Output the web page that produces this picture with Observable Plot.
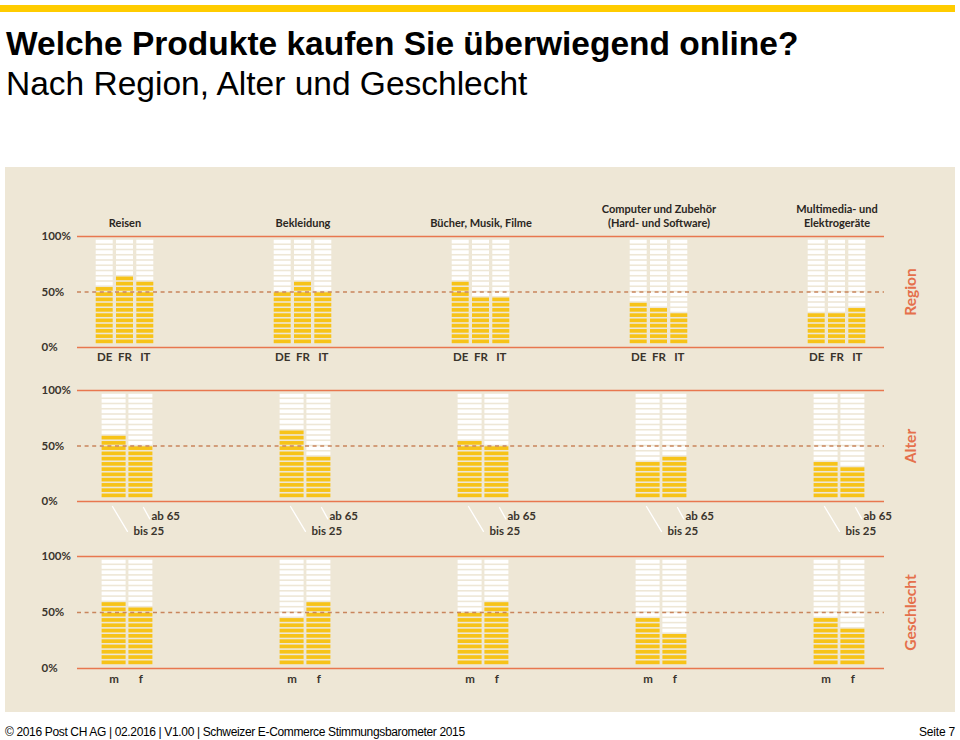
<!DOCTYPE html>
<html><head><meta charset="utf-8">
<script src="https://cdn.jsdelivr.net/npm/d3@7"></script>
<script src="https://cdn.jsdelivr.net/npm/@observablehq/plot@0.6"></script>
<style>
html,body{margin:0;padding:0;background:#fff;}
body{width:960px;height:740px;position:relative;overflow:hidden;font-family:"Liberation Sans",Arial,sans-serif;}
#topbar{position:absolute;left:0;top:5px;width:955px;height:7px;background:#FFCC00;}
#title{position:absolute;left:6px;top:24px;font-size:33.5px;font-weight:bold;color:#000;white-space:nowrap;line-height:40px;}
#subtitle{position:absolute;left:6px;top:64px;font-size:33.5px;color:#000;white-space:nowrap;line-height:40px;}
#panel{position:absolute;left:5px;top:167px;width:950px;height:545px;background:#EEE7D6;}
#panel svg{position:absolute;left:0;background:transparent;overflow:visible;}
#footer{position:absolute;left:5px;top:725px;font-size:12px;letter-spacing:-0.35px;color:#000;white-space:nowrap;}
#page{position:absolute;right:5px;top:725px;font-size:12px;letter-spacing:-0.2px;color:#000;}
</style></head>
<body>
<div id="topbar"></div>
<div id="title">Welche Produkte kaufen Sie überwiegend online?</div>
<div id="subtitle">Nach Region, Alter und Geschlecht</div>
<div id="panel"></div>
<div id="footer">© 2016 Post CH AG | 02.2016 | V1.00 | Schweizer E-Commerce Stimmungsbarometer 2015</div>
<div id="page">Seite 7</div>
<script>
// ---- data ----
const products = ["Reisen", "Bekleidung", "Bücher, Musik, Filme", "Computer und Zubehör\n(Hard- und Software)", "Multimedia- und\nElektrogeräte"];
const regions = ["DE", "FR", "IT"];
const regionDE = [55, 50, 60, 40, 30];
const regionFR = [65, 60, 45, 35, 30];
const regionIT = [60, 50, 45, 30, 35];
const ages = ["bis 25", "ab 65"];
const ageBis25 = [60, 65, 55, 35, 35];
const ageAb65 = [50, 40, 50, 40, 30];
const genders = ["m", "f"];
const genderM = [60, 45, 50, 45, 45];
const genderF = [55, 60, 60, 30, 35];
const yTicks = [0, 50, 100];
const segmentStep = 5;
const rowLabels = ["Region", "Alter", "Geschlecht"];

// ---- styles ----
const YELLOW = "#F7C318", EMPTY = "#FFFFFF", LINE = "#E8774F", DASH = "#C9855C";
const TXT = "#3a342c", ACCENT = "#E5704C";
const FONT = "Lato, 'Open Sans', sans-serif";
const W = 950, FRAME_L = 72, FRAME_R = 879;

function segments(cats, series) {
  const out = [];
  products.forEach((p, i) => cats.forEach((c, j) => {
    const v = series[j][i];
    for (let k = 0; k < 100 / segmentStep; k++) {
      out.push({product: p, cat: c, j, y1: k * segmentStep, y2: (k + 1) * segmentStep, on: (k + 1) * segmentStep <= v});
    }
  }));
  return out;
}

const lineShape = {draw(context, l) { context.moveTo(0, 0); context.lineTo(0, -l); }};

function row(o) {
  const n = products.length;
  const pi = 1 - o.bw / o.step;
  const r0 = o.center - o.bw / 2;
  const r1 = r0 + o.step * (n - pi);
  const segs = segments(o.cats, o.series);
  const marks = [];
  o.cats.forEach((c, j) => {
    const dx = (j - (o.cats.length - 1) / 2) * o.inner;
    marks.push(Plot.barY(segs.filter(d => d.j === j && !d.on), {x: "product", y1: "y1", y2: "y2", fill: EMPTY, insetTop: 0.8, insetBottom: 0.8, dx}));
    marks.push(Plot.barY(segs.filter(d => d.j === j && d.on), {x: "product", y1: "y1", y2: "y2", fill: YELLOW, insetTop: 0.8, insetBottom: 0.8, dx}));
    if (o.catLabels) {
      marks.push(Plot.text(products, {x: d => d, y: () => 0, text: () => c, dx, dy: o.labelDy, fill: TXT, fontSize: 11.5, fontWeight: "bold", fontFamily: FONT}));
    }
  });
  marks.push(Plot.ruleY([0], {dy: 3, stroke: LINE, strokeWidth: 1.6}));
  marks.push(Plot.ruleY([100], {dy: -3, stroke: LINE, strokeWidth: 1.6}));
  marks.push(Plot.ruleY([50], {stroke: DASH, strokeWidth: 1.3, strokeDasharray: "4,3.6"}));
  yTicks.forEach(t => {
    marks.push(Plot.text([t], {y: d => d, text: d => d + "%", frameAnchor: "left", dx: -36, dy: t === 100 ? -3 : t === 0 ? 3 : 0, textAnchor: "start", fill: TXT, fontSize: 11.5, fontWeight: "bold", fontFamily: FONT}));
  });
  marks.push(Plot.text([o.label], {y: () => 50, frameAnchor: "right", dx: 27, rotate: -90, textAnchor: "middle", text: d => d, fill: ACCENT, fontSize: 15.5, fontWeight: "bold", fontFamily: FONT}));
  if (o.titles) {
    marks.push(Plot.text(products, {x: d => d, y: () => 100, dy: -13, text: d => d, lineAnchor: "bottom", lineHeight: 1.25, fill: "#2a2622", fontSize: 11, fontWeight: "bold", fontFamily: FONT}));
  }
  if (o.ageLabels) {
    marks.push(Plot.vector(products, {x: d => d, y: () => 0, dx: -15, dy: 8, length: 29, rotate: 149, anchor: "start", stroke: "#fff", strokeWidth: 1.3, shape: lineShape}));
    marks.push(Plot.vector(products, {x: d => d, y: () => 0, dx: 16, dy: 9, length: 13, rotate: 151, anchor: "start", stroke: "#fff", strokeWidth: 1.3, shape: lineShape}));
    marks.push(Plot.text(products, {x: d => d, y: () => 0, text: () => o.cats[1], dx: 24, dy: 18, textAnchor: "start", fill: TXT, fontSize: 11.5, fontWeight: "bold", fontFamily: FONT}));
    marks.push(Plot.text(products, {x: d => d, y: () => 0, text: () => o.cats[0], dx: 6, dy: 33, textAnchor: "start", fill: TXT, fontSize: 11.5, fontWeight: "bold", fontFamily: FONT}));
  }
  const svg = Plot.plot({
    width: W, height: o.height,
    marginTop: o.mt, marginBottom: o.mb, marginLeft: FRAME_L, marginRight: W - FRAME_R,
    style: {background: "transparent", overflow: "visible"},
    x: {type: "band", domain: products, range: [r0, r1], paddingInner: pi, paddingOuter: 0, axis: null},
    y: {domain: [0, 100], axis: null},
    marks
  });
  svg.style.top = o.top + "px";
  return svg;
}

const panel = document.getElementById("panel");
panel.appendChild(row({cats: regions, series: [regionDE, regionFR, regionIT], height: 205, mt: 72, mb: 28, top: 0,
  bw: 17.5, inner: 20.3, step: 178.7, center: 118.3, catLabels: true, labelDy: 13, label: rowLabels[0], titles: true}));
panel.appendChild(row({cats: ages, series: [ageBis25, ageAb65], height: 173, mt: 21, mb: 47, top: 205,
  bw: 24, inner: 26.8, step: 178, center: 121.8, catLabels: false, label: rowLabels[1], ageLabels: true}));
panel.appendChild(row({cats: genders, series: [genderM, genderF], height: 167, mt: 14, mb: 47, top: 378,
  bw: 24, inner: 26.8, step: 178, center: 121.8, catLabels: true, labelDy: 14, label: rowLabels[2]}));
</script>
</body></html>
